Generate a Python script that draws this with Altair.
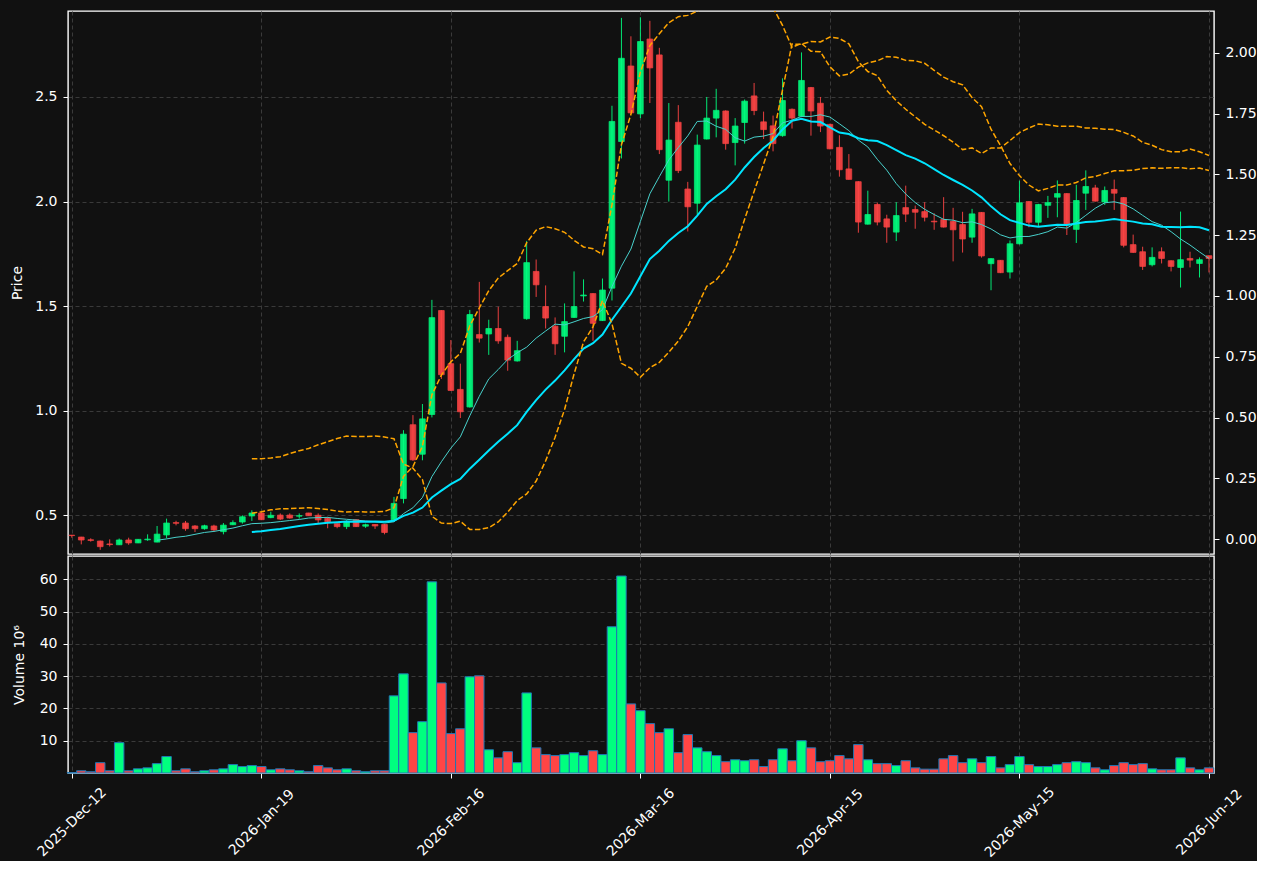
import altair as alt
import pandas as pd

# ---------------- data ----------------
tick_idx = [0, 20, 40, 60, 80, 100, 120]
tick_labels = ["2025-Dec-12", "2026-Jan-19", "2026-Feb-16", "2026-Mar-16",
               "2026-Apr-15", "2026-May-15", "2026-Jun-12"]

opens = [0.405, 0.396, 0.383, 0.377, 0.363, 0.359, 0.382, 0.368, 0.383, 0.372,
         0.406, 0.465, 0.463, 0.449, 0.436, 0.449, 0.422, 0.455, 0.468, 0.497,
         0.511, 0.489, 0.501, 0.501, 0.496, 0.511, 0.500, 0.486, 0.460, 0.446,
         0.479, 0.448, 0.456, 0.456, 0.478, 0.580, 0.933, 0.792, 0.982, 1.479,
         1.225, 1.102, 1.018, 1.364, 1.367, 1.393, 1.351, 1.238, 1.440, 1.666,
         1.498, 1.404, 1.356, 1.446, 1.549, 1.560, 1.431, 1.586, 2.287, 2.648,
         2.419, 2.777, 2.701, 2.102, 2.379, 2.060, 1.992, 2.299, 2.399, 2.433,
         2.282, 2.378, 2.505, 2.381, 2.362, 2.315, 2.441, 2.408, 2.545, 2.470,
         2.369, 2.259, 2.156, 2.095, 1.892, 1.986, 1.917, 1.854, 1.971, 1.962,
         1.952, 1.906, 1.914, 1.905, 1.890, 1.830, 1.948, 1.703, 1.719, 1.663,
         1.798, 2.000, 1.901, 1.982, 2.021, 2.038, 1.867, 2.040, 2.065, 1.998,
         2.058, 2.019, 1.794, 1.760, 1.698, 1.760, 1.717, 1.685, 1.728, 1.704,
         1.741]

highs = [0.406, 0.397, 0.390, 0.379, 0.385, 0.389, 0.393, 0.386, 0.409, 0.449,
         0.484, 0.474, 0.473, 0.453, 0.455, 0.455, 0.463, 0.476, 0.500, 0.524,
         0.515, 0.517, 0.509, 0.509, 0.509, 0.512, 0.509, 0.493, 0.461, 0.476,
         0.481, 0.460, 0.457, 0.458, 0.588, 0.907, 0.979, 1.032, 1.530, 1.481,
         1.338, 1.225, 1.482, 1.616, 1.435, 1.497, 1.364, 1.334, 1.812, 1.723,
         1.599, 1.446, 1.513, 1.666, 1.628, 1.562, 1.632, 2.458, 2.878, 2.790,
         2.881, 2.864, 2.735, 2.471, 2.461, 2.094, 2.320, 2.500, 2.539, 2.436,
         2.399, 2.488, 2.567, 2.430, 2.411, 2.589, 2.445, 2.713, 2.548, 2.500,
         2.372, 2.317, 2.227, 2.097, 2.052, 1.995, 1.937, 1.997, 2.076, 1.981,
         1.997, 1.944, 2.021, 1.970, 1.951, 1.965, 1.950, 1.729, 1.720, 1.814,
         2.100, 2.002, 1.989, 2.027, 2.101, 2.040, 2.080, 2.149, 2.080, 2.072,
         2.105, 2.021, 1.842, 1.784, 1.781, 1.781, 1.719, 1.952, 1.760, 1.733,
         1.742]

lows = [0.393, 0.361, 0.374, 0.335, 0.351, 0.358, 0.359, 0.367, 0.378, 0.371,
        0.390, 0.452, 0.426, 0.420, 0.431, 0.422, 0.409, 0.453, 0.460, 0.473,
        0.477, 0.486, 0.477, 0.484, 0.484, 0.497, 0.460, 0.438, 0.438, 0.434,
        0.444, 0.440, 0.435, 0.409, 0.476, 0.557, 0.760, 0.763, 0.968, 1.152,
        1.095, 0.965, 1.015, 1.326, 1.267, 1.320, 1.191, 1.235, 1.435, 1.544,
        1.393, 1.267, 1.279, 1.444, 1.522, 1.334, 1.429, 1.527, 2.206, 2.420,
        2.399, 2.471, 2.227, 2.000, 2.136, 1.857, 1.938, 2.297, 2.307, 2.248,
        2.173, 2.277, 2.413, 2.299, 2.240, 2.310, 2.349, 2.405, 2.315, 2.332,
        2.250, 2.119, 2.105, 1.851, 1.890, 1.886, 1.803, 1.811, 1.902, 1.870,
        1.905, 1.865, 1.876, 1.714, 1.756, 1.803, 1.732, 1.576, 1.658, 1.632,
        1.795, 1.877, 1.880, 1.922, 1.925, 1.840, 1.802, 1.960, 2.000, 1.984,
        1.960, 1.781, 1.755, 1.673, 1.690, 1.704, 1.666, 1.589, 1.685, 1.637,
        1.661]

closes = [0.403, 0.382, 0.380, 0.350, 0.360, 0.382, 0.368, 0.385, 0.386, 0.410,
          0.463, 0.462, 0.436, 0.436, 0.450, 0.430, 0.453, 0.465, 0.493, 0.511,
          0.479, 0.500, 0.482, 0.487, 0.498, 0.498, 0.478, 0.469, 0.446, 0.469,
          0.446, 0.455, 0.449, 0.418, 0.557, 0.888, 0.765, 0.961, 1.445, 1.172,
          1.097, 0.995, 1.460, 1.347, 1.393, 1.334, 1.242, 1.287, 1.708, 1.602,
          1.443, 1.320, 1.426, 1.498, 1.553, 1.418, 1.577, 2.383, 2.685, 2.424,
          2.765, 2.639, 2.248, 2.294, 2.148, 1.975, 2.270, 2.399, 2.436, 2.277,
          2.361, 2.480, 2.435, 2.344, 2.277, 2.483, 2.399, 2.579, 2.433, 2.361,
          2.252, 2.152, 2.106, 1.902, 1.938, 1.902, 1.878, 1.933, 1.940, 1.949,
          1.925, 1.903, 1.878, 1.865, 1.821, 1.941, 1.740, 1.727, 1.660, 1.798,
          1.994, 1.901, 1.986, 1.995, 2.038, 1.893, 2.005, 2.072, 2.002, 2.053,
          2.040, 1.791, 1.757, 1.690, 1.733, 1.728, 1.690, 1.722, 1.720, 1.722,
          1.728]

volumes = [0.1, 0.7, 0.4, 3.2, 0.7, 9.4, 0.7, 1.3, 1.6, 2.9,
           5.1, 0.7, 1.3, 0.4, 0.7, 1.0, 1.3, 2.6, 2.0, 2.3,
           2.0, 1.0, 1.3, 1.0, 0.7, 0.4, 2.3, 1.6, 1.0, 1.3,
           0.7, 0.4, 0.7, 0.7, 23.9, 30.7, 12.5, 15.9, 59.2, 27.9,
           12.2, 13.7, 29.8, 30.1, 7.2, 4.7, 6.6, 3.2, 24.8, 7.8,
           5.7, 5.4, 5.7, 6.3, 5.4, 6.9, 5.7, 45.3, 61.0, 21.4,
           19.3, 15.3, 12.5, 13.7, 6.3, 11.9, 7.8, 6.6, 5.4, 3.5,
           4.1, 3.8, 4.1, 2.0, 4.1, 7.5, 3.8, 10.0, 7.8, 3.5,
           3.8, 5.4, 4.4, 8.8, 4.1, 2.9, 2.9, 2.3, 3.8, 1.6,
           1.2, 1.2, 4.4, 5.4, 3.2, 4.4, 3.2, 5.1, 1.6, 2.6,
           5.1, 2.6, 2.0, 2.0, 2.6, 3.2, 3.5, 3.2, 1.6, 1.0,
           2.3, 3.2, 2.6, 2.9, 1.3, 1.0, 1.0, 4.7, 1.6, 1.0,
           1.6]

# thin cyan line, from index 9
ma10 = [0.381, 0.387, 0.395, 0.400, 0.409, 0.418, 0.423, 0.431, 0.439, 0.450, 0.460,
        0.462, 0.465, 0.470, 0.475, 0.480, 0.487, 0.489, 0.490, 0.485, 0.481,
        0.477, 0.473, 0.470, 0.463, 0.469, 0.508, 0.536, 0.585, 0.685, 0.756,
        0.821, 0.875, 0.976, 1.069, 1.152, 1.197, 1.245, 1.277, 1.304, 1.347,
        1.381, 1.414, 1.410, 1.425, 1.441, 1.450, 1.483, 1.593, 1.691, 1.773,
        1.905, 2.037, 2.119, 2.199, 2.258, 2.314, 2.383, 2.385, 2.360, 2.345,
        2.305, 2.289, 2.308, 2.313, 2.325, 2.376, 2.389, 2.407, 2.407, 2.415,
        2.404, 2.372, 2.339, 2.294, 2.261, 2.202, 2.150, 2.086, 2.036, 1.995,
        1.963, 1.938, 1.915, 1.911, 1.899, 1.903, 1.890, 1.869, 1.841, 1.826,
        1.833, 1.833, 1.843, 1.856, 1.878, 1.873, 1.900, 1.934, 1.968, 1.994,
        1.999, 1.988, 1.965, 1.934, 1.904, 1.887, 1.856, 1.821, 1.792, 1.759,
        1.728]

# thick cyan line, from index 19
ma20 = [0.420,
        0.424, 0.430, 0.435, 0.442, 0.449, 0.455, 0.460, 0.464, 0.467, 0.470,
        0.469, 0.469, 0.470, 0.469, 0.474, 0.497, 0.513, 0.537, 0.585, 0.618,
        0.649, 0.674, 0.723, 0.766, 0.810, 0.852, 0.890, 0.931, 0.994, 1.051,
        1.101, 1.144, 1.193, 1.247, 1.297, 1.323, 1.364, 1.435, 1.497, 1.560,
        1.643, 1.725, 1.765, 1.812, 1.850, 1.882, 1.933, 1.989, 2.025, 2.059,
        2.105, 2.163, 2.213, 2.256, 2.292, 2.345, 2.386, 2.396, 2.383, 2.380,
        2.355, 2.330, 2.323, 2.303, 2.293, 2.289, 2.270, 2.246, 2.222, 2.205,
        2.183, 2.155, 2.127, 2.103, 2.080, 2.053, 2.020, 1.977, 1.939, 1.911,
        1.898, 1.885, 1.879, 1.884, 1.889, 1.888, 1.895, 1.902, 1.905, 1.910,
        1.916, 1.910, 1.904, 1.895, 1.891, 1.880, 1.878, 1.877, 1.880, 1.877,
        1.863]

# orange dashed band on the left (price) axis, from index 19
band_left = [0.510,
             0.517, 0.526, 0.531, 0.532, 0.534, 0.536, 0.532, 0.528, 0.520, 0.516,
             0.517, 0.516, 0.516, 0.518, 0.536, 0.686, 0.733, 0.830, 1.076, 1.170,
             1.234, 1.274, 1.406, 1.491, 1.574, 1.634, 1.670, 1.704, 1.803, 1.863,
             1.880, 1.870, 1.853, 1.815, 1.783, 1.774, 1.747, 1.984, 2.271, 2.416,
             2.620, 2.746, 2.802, 2.855, 2.884, 2.890, 2.910, 2.938, 2.984, 3.003,
             3.014, 3.010, 2.997, 2.968, 2.927, 2.842, 2.737, 2.756, 2.719, 2.716,
             2.644, 2.601, 2.609, 2.643, 2.663, 2.673, 2.693, 2.690, 2.675, 2.673,
             2.661, 2.627, 2.595, 2.573, 2.558, 2.497, 2.454, 2.346, 2.268, 2.182,
             2.124, 2.079, 2.051, 2.063, 2.079, 2.079, 2.091, 2.113, 2.120, 2.134,
             2.147, 2.147, 2.150, 2.158, 2.161, 2.159, 2.162, 2.162, 2.157, 2.160,
             2.148]

# orange dashed band on the right axis, from index 19
band_right = [0.331,
              0.331, 0.334, 0.339, 0.352, 0.364, 0.373, 0.388, 0.401, 0.414, 0.424,
              0.422, 0.422, 0.424, 0.420, 0.413, 0.309, 0.292, 0.245, 0.094, 0.066,
              0.064, 0.074, 0.040, 0.040, 0.047, 0.071, 0.111, 0.159, 0.186, 0.239,
              0.322, 0.419, 0.533, 0.679, 0.811, 0.873, 0.981, 0.886, 0.723, 0.703,
              0.666, 0.705, 0.727, 0.769, 0.815, 0.874, 0.957, 1.040, 1.066, 1.114,
              1.196, 1.316, 1.430, 1.543, 1.656, 1.848, 2.036, 2.035, 2.047, 2.045,
              2.065, 2.059, 2.037, 1.964, 1.923, 1.906, 1.846, 1.803, 1.768, 1.737,
              1.706, 1.683, 1.659, 1.633, 1.602, 1.609, 1.586, 1.609, 1.609, 1.639,
              1.672, 1.691, 1.707, 1.704, 1.698, 1.698, 1.698, 1.691, 1.690, 1.686,
              1.685, 1.673, 1.658, 1.632, 1.620, 1.602, 1.593, 1.593, 1.604, 1.593,
              1.578]

# ---------------- tables ----------------
n = len(closes)
candles = pd.DataFrame({
    "i": list(range(n)), "open": opens, "high": highs, "low": lows,
    "close": closes, "vol": volumes,
    "dir": ["up" if c >= o else "down" for o, c in zip(opens, closes)],
})
df_ma10 = pd.DataFrame({"i": list(range(n - len(ma10), n)), "v": ma10})
df_ma20 = pd.DataFrame({"i": list(range(n - len(ma20), n)), "v": ma20})
df_bl = pd.DataFrame({"i": list(range(n - len(band_left), n)), "v": band_left})
df_br = pd.DataFrame({"i": list(range(n - len(band_right), n)), "v": band_right})

# ---------------- style ----------------
BG = "#111111"
GREEN = "#00FF7F"
RED = "#FF4545"
ORANGE = "#FFA500"
FONT = "DejaVu Sans"
FS = 14

xscale = alt.Scale(domain=[-0.4, 120.53], nice=False, zero=False)
x_axis_top = alt.Axis(values=tick_idx, labels=False, ticks=False, domain=False,
                      grid=True, title=None)
label_expr = "[" + ",".join("'%s'" % t for t in tick_labels) + "][round(datum.value/20)]"
x_axis_bottom = alt.Axis(values=tick_idx, labelExpr=label_expr, labelAngle=315,
                         labelAlign="center", labelBaseline="middle",
                         labelPadding=44, labelFlush=False, labelOverlap=False,
                         labelBound=False, grid=True, title=None, domain=False)

price_scale = alt.Scale(domain=[0.315, 2.911], nice=False, zero=False)
price_axis = alt.Axis(values=[0.5, 1.0, 1.5, 2.0, 2.5], format=".1f",
                      title="Price", grid=True, titlePadding=10, domain=False)
right_scale = alt.Scale(domain=[-0.061, 2.172], nice=False, zero=False)
right_axis = alt.Axis(orient="right", values=[0, 0.25, 0.5, 0.75, 1.0, 1.25, 1.5, 1.75, 2.0],
                      format=".2f", title=None, grid=False, domain=False)

color = alt.Color("dir:N", scale=alt.Scale(domain=["up", "down"], range=[GREEN, RED]),
                  legend=None)
stroke = alt.Stroke("dir:N", scale=alt.Scale(domain=["up", "down"], range=[GREEN, RED]),
                    legend=None)

base = alt.Chart(candles)

wicks = base.mark_rule(strokeWidth=1, opacity=0.9).encode(
    x=alt.X("i:Q", scale=xscale, axis=x_axis_top),
    y=alt.Y("low:Q", scale=price_scale, axis=price_axis),
    y2="high:Q",
    color=color,
)

bodies = base.transform_calculate(
    xl="datum.i - 0.3", xr="datum.i + 0.3"
).mark_bar(opacity=0.9, strokeWidth=0.8).encode(
    x=alt.X("xl:Q", scale=xscale, axis=x_axis_top),
    x2="xr:Q",
    y=alt.Y("open:Q", scale=price_scale, axis=price_axis),
    y2="close:Q",
    color=color,
    stroke=stroke,
)

ma10_line = alt.Chart(df_ma10).mark_line(color="#48D1CC", strokeWidth=1).encode(
    x=alt.X("i:Q", scale=xscale, axis=x_axis_top),
    y=alt.Y("v:Q", scale=price_scale, axis=price_axis),
)
ma20_line = alt.Chart(df_ma20).mark_line(color="#00E5FF", strokeWidth=2).encode(
    x=alt.X("i:Q", scale=xscale, axis=x_axis_top),
    y=alt.Y("v:Q", scale=price_scale, axis=price_axis),
)
band_left_line = alt.Chart(df_bl).mark_line(
    color=ORANGE, strokeWidth=1.5, strokeDash=[5.5, 2.4], clip=True
).encode(
    x=alt.X("i:Q", scale=xscale, axis=x_axis_top),
    y=alt.Y("v:Q", scale=price_scale, axis=price_axis),
)
band_right_line = alt.Chart(df_br).mark_line(
    color=ORANGE, strokeWidth=1.5, strokeDash=[5.5, 2.4], clip=True
).encode(
    x=alt.X("i:Q", scale=xscale, axis=x_axis_top),
    y=alt.Y("v:Q", scale=right_scale, axis=right_axis),
)

left_layers = alt.layer(wicks, bodies, ma10_line, ma20_line, band_left_line)
top = alt.layer(left_layers, band_right_line).resolve_scale(y="independent").properties(
    width=1146, height=543)

vol = base.transform_calculate(
    xl="datum.i - 0.5", xr="datum.i + 0.5"
).mark_bar(stroke="#1f77b4", strokeWidth=1).encode(
    x=alt.X("xl:Q", scale=xscale, axis=x_axis_bottom),
    x2="xr:Q",
    y=alt.Y("vol:Q", scale=alt.Scale(domain=[0, 67.2], nice=False),
            axis=alt.Axis(values=[10, 20, 30, 40, 50, 60], title="Volume  10\u2076",
                          titlePadding=13, grid=True, domain=False)),
    y2=alt.datum(0),
    color=color,
).properties(width=1146, height=217)

chart = alt.vconcat(top, vol, spacing=0).properties(
    background=BG,
    padding={"left": 10, "top": 10, "right": 0, "bottom": 0},
).configure_view(
    stroke="#ffffff", strokeWidth=1.4, fill=BG
).configure_axis(
    labelColor="#ffffff", titleColor="#ffffff",
    labelFont=FONT, titleFont=FONT,
    labelFontSize=FS, titleFontSize=FS, titleFontWeight="normal",
    tickColor="#ffffff", tickSize=5, tickWidth=1,
    labelPadding=6,
    gridColor="#3a3a3a", gridDash=[4, 3], gridWidth=1,
)

chart.save("out.html", embed_options={"renderer": "svg", "actions": False})
